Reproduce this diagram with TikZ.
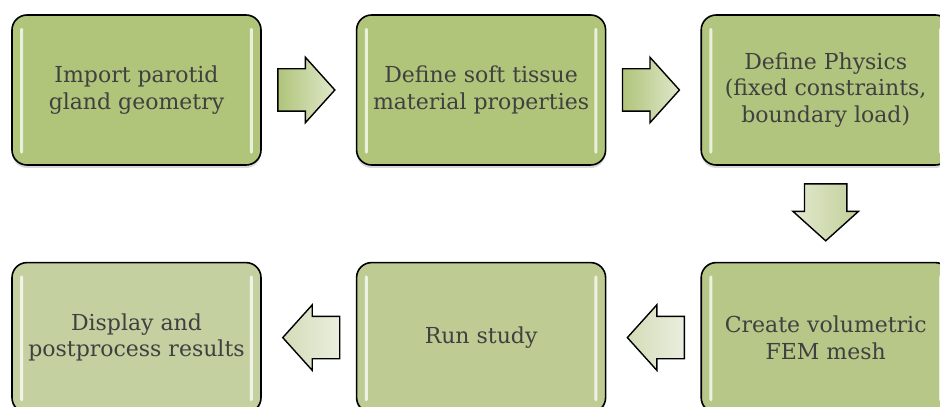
\documentclass[tikz,border=0pt]{standalone}
\usepackage{fontspec}
\setmainfont{DejaVu Serif}
\usepackage{tikz}
\usetikzlibrary{shapes,arrows,positioning,calc,shadows}
\usepackage{xcolor}

\definecolor{textgray}{RGB}{64,64,64}
\definecolor{greenA}{RGB}{176,196,122}
\definecolor{greenB}{RGB}{178,197,126}
\definecolor{greenC}{RGB}{183,199,135}
\definecolor{greenD}{RGB}{190,204,148}
\definecolor{greenE}{RGB}{196,208,160}

\begin{document}
\begin{tikzpicture}[
    x=1pt, y=1pt,
    node distance=94pt,
    box/.style={rectangle, rounded corners=15pt, draw=black, line width=1.6pt, minimum width=249pt, minimum height=150pt, align=center, text=textgray, font=\fontsize{22}{26.5}\selectfont, drop shadow={shadow xshift=0pt, shadow yshift=-3pt, opacity=0.3}},
    blockarrow/.style={single arrow, draw=black, line width=1.4pt, single arrow head extend=11.5pt, single arrow tip angle=96, minimum height=57pt, inner xsep=0pt, inner ysep=20.5pt},
    gloss/.style={fill=white, fill opacity=0.75, rounded corners=1.5pt}
]
\useasboundingbox (0,0) rectangle (940,407);
\clip (0,0) rectangle (940,407);

% Top row
\node[box, fill=greenA] (import) at (136.5,317) {Import parotid\\gland geometry};
\node[box, fill=greenA, right=94pt of import] (material) {Define soft tissue\\material properties};
\node[box, fill=greenB, right=of material] (physics) {Define Physics\\(fixed constraints,\\boundary load)};

% Bottom row
\node[box, fill=greenC, below=96pt of physics] (mesh) {Create volumetric\\FEM mesh};
\node[box, fill=greenD, left=of mesh] (study) {Run study};
\node[box, fill=greenE, left=94pt of study] (display) {Display and\\postprocess results};

% Highlights
\foreach \b in {import,material,physics,mesh,study,display} {
    \fill[gloss] ([xshift=9pt,yshift=12pt]\b.south west) rectangle ++(3pt,126pt);
    \fill[gloss] ([xshift=-12pt,yshift=12pt]\b.south east) rectangle ++(3pt,126pt);
}

% Arrows (the centre anchor sits near the tail, hence the offsets)
\node[blockarrow, left color=greenA, right color=greenA!40!white] (a1) at ($(import.east)!0.5!(material.west)+(-12,0)$) {};
\node[blockarrow, left color=greenA, right color=greenA!40!white] (a2) at ($(material.east)!0.5!(physics.west)+(-12,0)$) {};
\node[blockarrow, rotate=-90, left color=greenC!40!white, right color=greenC!85!white] (a3) at ($(physics.south)!0.5!(mesh.north)+(0,11)$) {};
\node[blockarrow, rotate=180, left color=greenE!75!white, right color=greenE!35!white] (a4) at ($(mesh.west)!0.5!(study.east)+(12,0)$) {};
\node[blockarrow, rotate=180, left color=greenE!75!white, right color=greenE!35!white] (a5) at ($(study.west)!0.5!(display.east)+(12,0)$) {};

\end{tikzpicture}
\end{document}
